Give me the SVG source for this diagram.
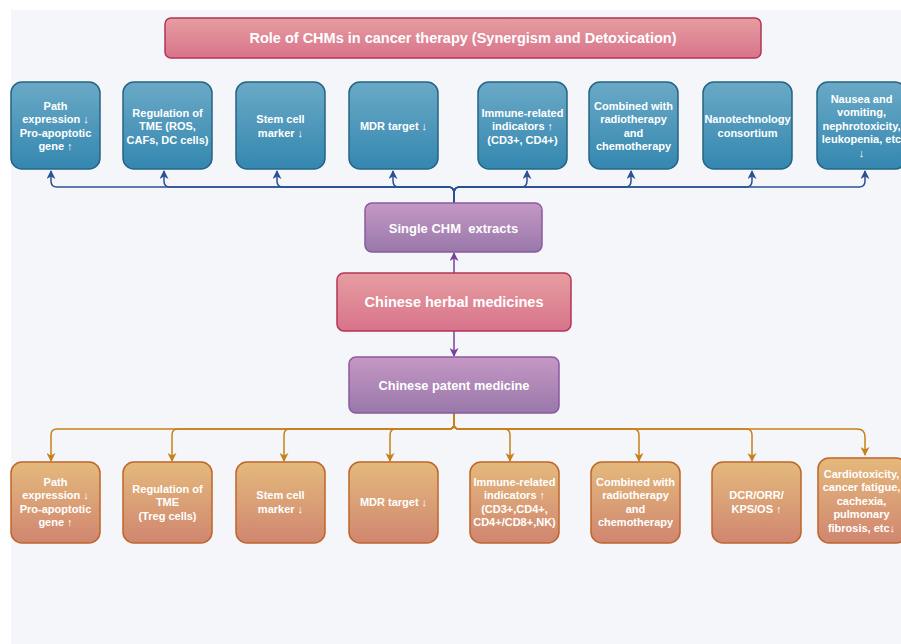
<svg xmlns="http://www.w3.org/2000/svg" width="901" height="644" viewBox="0 0 901 644">
<defs>
<linearGradient id="gBlue" x1="0" y1="0" x2="0" y2="1"><stop offset="0" stop-color="#6aa9c6"/><stop offset="1" stop-color="#3487b0"/></linearGradient>
<linearGradient id="gOrange" x1="0" y1="0" x2="0" y2="1"><stop offset="0" stop-color="#e4b97c"/><stop offset="1" stop-color="#d08670"/></linearGradient>
<linearGradient id="gPurple" x1="0" y1="0" x2="0" y2="1"><stop offset="0" stop-color="#c598c4"/><stop offset="1" stop-color="#9878aa"/></linearGradient>
<linearGradient id="gPink" x1="0" y1="0" x2="0" y2="1"><stop offset="0" stop-color="#e69ea0"/><stop offset="1" stop-color="#d8738b"/></linearGradient>
<marker id="aBlue" viewBox="0 0 10 10" refX="9" refY="5" markerWidth="9" markerHeight="9" markerUnits="userSpaceOnUse" orient="auto"><path d="M0,0 L10,5 L0,10 L3,5 z" fill="#2b5195"/></marker>
<marker id="aOrange" viewBox="0 0 10 10" refX="9" refY="5" markerWidth="9" markerHeight="9" markerUnits="userSpaceOnUse" orient="auto"><path d="M0,0 L10,5 L0,10 L3,5 z" fill="#c7801b"/></marker>
<marker id="aPurple" viewBox="0 0 10 10" refX="9" refY="5" markerWidth="9" markerHeight="9" markerUnits="userSpaceOnUse" orient="auto"><path d="M0,0 L10,5 L0,10 L3,5 z" fill="#7a419c"/></marker>
</defs>
<style>
.blue{fill:url(#gBlue);stroke:#246485;stroke-width:1.5}
.orange{fill:url(#gOrange);stroke:#c0652a;stroke-width:1.5}
.purple{fill:url(#gPurple);stroke:#8c5a9e;stroke-width:1.5}
.pink{fill:url(#gPink);stroke:#b53456;stroke-width:1.5}
text{font-family:"Liberation Sans",Arial,sans-serif;font-weight:bold;fill:#ffffff;text-anchor:middle;dominant-baseline:central}
.s{font-size:11px}
.cb{fill:none;stroke:#2b5195;stroke-width:1.5}
.co{fill:none;stroke:#c7801b;stroke-width:1.5}
.cp{fill:none;stroke:#7a419c;stroke-width:1.5}
</style>
<rect x="0" y="0" width="901" height="644" fill="#ffffff"/>
<rect x="11" y="10" width="890" height="634" fill="#f4f6fa"/>

<g id="connectors">
<g id="top-branches">
<path class="cb" d="M454,204 V193 Q454,187 448,187 H57 Q51,187 51,181 V171" marker-end="url(#aBlue)"/>
<path class="cb" d="M454,204 V193 Q454,187 448,187 H170 Q164,187 164,181 V171" marker-end="url(#aBlue)"/>
<path class="cb" d="M454,204 V193 Q454,187 448,187 H283 Q277,187 277,181 V171" marker-end="url(#aBlue)"/>
<path class="cb" d="M454,204 V193 Q454,187 448,187 H399 Q393,187 393,181 V171" marker-end="url(#aBlue)"/>
<path class="cb" d="M454,204 V193 Q454,187 460,187 H521 Q527,187 527,181 V171" marker-end="url(#aBlue)"/>
<path class="cb" d="M454,204 V193 Q454,187 460,187 H625 Q631,187 631,181 V171" marker-end="url(#aBlue)"/>
<path class="cb" d="M454,204 V193 Q454,187 460,187 H746 Q752,187 752,181 V171" marker-end="url(#aBlue)"/>
<path class="cb" d="M454,204 V193 Q454,187 460,187 H859 Q865,187 865,181 V171" marker-end="url(#aBlue)"/>
</g>
<path class="cp" d="M454,273 V253" marker-end="url(#aPurple)"/>
<path class="cp" d="M454,331 V356" marker-end="url(#aPurple)"/>
<g id="bottom-branches">
<path class="co" d="M454,413 V424 Q454,429 449,429 H57 Q51,429 51,435 V461" marker-end="url(#aOrange)"/>
<path class="co" d="M454,413 V424 Q454,429 449,429 H178 Q172,429 172,435 V461" marker-end="url(#aOrange)"/>
<path class="co" d="M454,413 V424 Q454,429 449,429 H290 Q284,429 284,435 V461" marker-end="url(#aOrange)"/>
<path class="co" d="M454,413 V424 Q454,429 449,429 H396 Q390,429 390,435 V461" marker-end="url(#aOrange)"/>
<path class="co" d="M454,413 V424 Q454,429 459,429 H504 Q510,429 510,435 V461" marker-end="url(#aOrange)"/>
<path class="co" d="M454,413 V424 Q454,429 459,429 H633 Q639,429 639,435 V461" marker-end="url(#aOrange)"/>
<path class="co" d="M454,413 V424 Q454,429 459,429 H746 Q752,429 752,435 V461" marker-end="url(#aOrange)"/>
<path class="co" d="M454,413 V424 Q454,429 459,429 H857 Q865,429 865,437 V455" marker-end="url(#aOrange)"/>
</g>
</g>

<g id="title"><rect class="pink" x="165" y="18" width="596" height="40" rx="6"/><text x="463" y="38" style="font-size:14.5px">Role of CHMs in cancer therapy (Synergism and Detoxication)</text></g>

<g id="t1"><rect class="blue" x="11" y="82" width="89" height="87" rx="11"/><text class="s" x="55.5" y="106">Path</text><text class="s" x="55.5" y="119.3">expression ↓</text><text class="s" x="55.5" y="132.7">Pro-apoptotic</text><text class="s" x="55.5" y="146">gene ↑</text></g>
<g id="t2"><rect class="blue" x="123" y="82" width="89" height="87" rx="11"/><text class="s" x="167.5" y="112.5">Regulation of</text><text class="s" x="167.5" y="126">TME (ROS,</text><text class="s" x="167.5" y="139.5">CAFs, DC cells)</text></g>
<g id="t3"><rect class="blue" x="236" y="82" width="89" height="87" rx="11"/><text class="s" x="280.5" y="119.3">Stem cell</text><text class="s" x="280.5" y="132.7">marker ↓</text></g>
<g id="t4"><rect class="blue" x="349" y="82" width="89" height="87" rx="11"/><text class="s" x="393.5" y="126">MDR target ↓</text></g>
<g id="t5"><rect class="blue" x="478" y="82" width="89" height="87" rx="11"/><text class="s" x="522.5" y="112.5">Immune-related</text><text class="s" x="522.5" y="126">indicators ↑</text><text class="s" x="522.5" y="139.5">(CD3+, CD4+)</text></g>
<g id="t6"><rect class="blue" x="589" y="82" width="89" height="87" rx="11"/><text class="s" x="633.5" y="106">Combined with</text><text class="s" x="633.5" y="119.3">radiotherapy</text><text class="s" x="633.5" y="132.7">and</text><text class="s" x="633.5" y="146">chemotherapy</text></g>
<g id="t7"><rect class="blue" x="703" y="82" width="89" height="87" rx="11"/><text class="s" x="747.5" y="119.3">Nanotechnology</text><text class="s" x="747.5" y="132.7">consortium</text></g>
<g id="t8"><rect class="blue" x="817" y="82" width="89" height="87" rx="11"/><text class="s" x="861.5" y="99">Nausea and</text><text class="s" x="861.5" y="112.3">vomiting,</text><text class="s" x="861.5" y="125.7">nephrotoxicity,</text><text class="s" x="861.5" y="139">leukopenia, etc</text><text class="s" x="861.5" y="153">↓</text></g>

<g id="single"><rect class="purple" x="365" y="203" width="177" height="49" rx="7"/><text x="453.5" y="228" style="font-size:13px;white-space:pre" xml:space="preserve">Single CHM  extracts</text></g>
<g id="chm"><rect class="pink" x="337" y="273" width="234" height="58" rx="7"/><text x="454" y="302" style="font-size:14.5px">Chinese herbal medicines</text></g>
<g id="patent"><rect class="purple" x="349" y="357" width="210" height="56" rx="7"/><text x="454" y="385" style="font-size:12.8px">Chinese patent medicine</text></g>

<g id="b1"><rect class="orange" x="11" y="462" width="89" height="81" rx="11"/><text class="s" x="55.5" y="482">Path</text><text class="s" x="55.5" y="495.3">expression ↓</text><text class="s" x="55.5" y="508.7">Pro-apoptotic</text><text class="s" x="55.5" y="522">gene ↑</text></g>
<g id="b2"><rect class="orange" x="123" y="462" width="89" height="81" rx="11"/><text class="s" x="167.5" y="488.5">Regulation of</text><text class="s" x="167.5" y="502">TME</text><text class="s" x="167.5" y="515.5">(Treg cells)</text></g>
<g id="b3"><rect class="orange" x="236" y="462" width="89" height="81" rx="11"/><text class="s" x="280.5" y="495.3">Stem cell</text><text class="s" x="280.5" y="508.7">marker ↓</text></g>
<g id="b4"><rect class="orange" x="349" y="462" width="89" height="81" rx="11"/><text class="s" x="393.5" y="502">MDR target ↓</text></g>
<g id="b5"><rect class="orange" x="470" y="462" width="89" height="81" rx="11"/><text class="s" x="514.5" y="482">Immune-related</text><text class="s" x="514.5" y="495.3">indicators ↑</text><text class="s" x="514.5" y="508.7">(CD3+,CD4+,</text><text class="s" x="514.5" y="522">CD4+/CD8+,NK)</text></g>
<g id="b6"><rect class="orange" x="591" y="462" width="89" height="81" rx="11"/><text class="s" x="635.5" y="482">Combined with</text><text class="s" x="635.5" y="495.3">radiotherapy</text><text class="s" x="635.5" y="508.7">and</text><text class="s" x="635.5" y="522">chemotherapy</text></g>
<g id="b7"><rect class="orange" x="712" y="462" width="89" height="81" rx="11"/><text class="s" x="756.5" y="495.3">DCR/ORR/</text><text class="s" x="756.5" y="508.7">KPS/OS ↑</text></g>
<g id="b8"><rect class="orange" x="818" y="458" width="89" height="85" rx="11"/><text class="s" x="861.5" y="473.5">Cardiotoxicity,</text><text class="s" x="861.5" y="487">cancer fatigue,</text><text class="s" x="861.5" y="500.5">cachexia,</text><text class="s" x="861.5" y="514">pulmonary</text><text class="s" x="861.5" y="527.5">fibrosis, etc↓</text></g>
</svg>
